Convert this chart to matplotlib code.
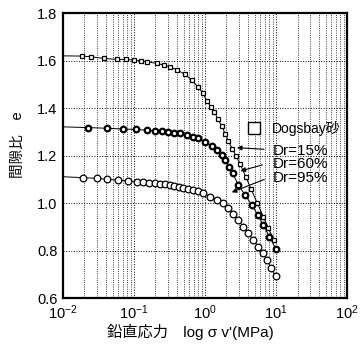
import matplotlib
matplotlib.use("Agg")
import matplotlib.pyplot as plt
from matplotlib.ticker import LogLocator, MultipleLocator, FormatStrFormatter

plt.rcParams["font.family"] = ["Liberation Sans", "Noto Sans CJK JP"]
plt.rcParams["mathtext.fontset"] = "custom"
plt.rcParams["mathtext.rm"] = "Liberation Sans"
plt.rcParams["mathtext.default"] = "regular"

# Dr=15% (small squares), first point is the line start at the left edge
s15 = [0.01, 0.0187, 0.0248, 0.0378, 0.057, 0.077, 0.1, 0.126, 0.154, 0.209, 0.267,
       0.321, 0.407, 0.523, 0.65, 0.789, 0.929, 1.06, 1.22, 1.35, 1.51, 1.72,
       1.91, 2.13, 2.43, 2.73, 3.11, 3.74, 4.45, 5.45, 6.62, 7.79, 9.46]
e15 = [1.620, 1.619, 1.616, 1.609, 1.605, 1.605, 1.602, 1.598, 1.595, 1.588, 1.581,
       1.574, 1.560, 1.542, 1.518, 1.490, 1.464, 1.429, 1.405, 1.384, 1.354, 1.324,
       1.293, 1.261, 1.227, 1.198, 1.164, 1.111, 1.059, 0.999, 0.942, 0.893, 0.843]

# Dr=60% (bold circles)
s60 = [0.01, 0.0225, 0.0417, 0.0706, 0.107, 0.151, 0.198, 0.25, 0.304, 0.37,
       0.445, 0.552, 0.671, 0.805, 1.0, 1.24, 1.46, 1.72, 1.91, 2.2, 2.45,
       2.94, 3.66, 4.54, 5.52, 6.62, 8.05, 10.0]
e60 = [1.321, 1.318, 1.315, 1.312, 1.310, 1.307, 1.304, 1.303, 1.300, 1.296,
       1.294, 1.286, 1.279, 1.272, 1.258, 1.240, 1.223, 1.202, 1.181, 1.153, 1.125,
       1.076, 1.034, 0.992, 0.950, 0.907, 0.858, 0.805]

# Dr=95% (open circles)
s95 = [0.01, 0.0193, 0.0298, 0.042, 0.059, 0.083, 0.109, 0.135, 0.164, 0.198,
       0.232, 0.273, 0.321, 0.37, 0.43, 0.495, 0.582, 0.684, 0.805, 0.929,
       1.18, 1.46, 1.81, 2.13, 2.5, 2.94, 3.46, 4.07, 4.79, 5.63, 6.62, 7.54,
       8.42, 9.9]
e95 = [1.111, 1.107, 1.104, 1.100, 1.097, 1.094, 1.090, 1.087, 1.086, 1.083,
       1.081, 1.079, 1.076, 1.073, 1.069, 1.064, 1.059, 1.055, 1.051, 1.043,
       1.027, 1.013, 0.999, 0.978, 0.954, 0.928, 0.900, 0.872, 0.844, 0.816,
       0.788, 0.760, 0.725, 0.694]

labels = ["Dr=15%", "Dr=60%", "Dr=95%"]
label_y = [1.219, 1.164, 1.105]
arrow_tail = [(7.4, 1.226), (7.0, 1.164), (7.4, 1.104)]
arrow_tip = [(2.56, 1.234), (2.89, 1.132), (2.18, 1.041)]

fig = plt.figure(figsize=(3.62, 3.45), dpi=100)
ax = fig.add_axes([0.174, 0.136, 0.785, 0.826])

ax.plot(s15, e15, "-", color="black", lw=0.7, marker="s", ms=3, mfc="white",
        mec="black", mew=0.9, markevery=slice(1, None))
ax.plot(s60, e60, "-", color="black", lw=0.7, marker="o", ms=4, mfc="white",
        mec="black", mew=1.6, markevery=slice(1, None))
ax.plot(s95, e95, "-", color="black", lw=0.7, marker="o", ms=4.8, mfc="white",
        mec="black", mew=0.9, markevery=slice(1, None))

ax.set_xscale("log")
ax.set_xlim(0.01, 100)
ax.set_ylim(0.6, 1.8)
ax.yaxis.set_major_locator(MultipleLocator(0.2))
ax.yaxis.set_major_formatter(FormatStrFormatter("%.1f"))
ax.xaxis.set_major_locator(LogLocator(base=10, numticks=10))
ax.xaxis.set_minor_locator(LogLocator(base=10, subs=range(2, 10), numticks=20))
ax.grid(True, which="major", color="black", ls=":", lw=0.7)
ax.grid(True, which="minor", axis="x", color="black", ls=":", lw=0.6)
ax.tick_params(which="both", length=0, labelsize=10.5, pad=4)
for sp in ax.spines.values():
    sp.set_linewidth(1.6)

# legend-like annotation
ax.plot([4.9], [1.316], marker="s", ms=8.5, mfc="white", mec="black", mew=1.0)
ax.text(8.6, 1.316, "Dogsbay砂", fontsize=10, va="center", ha="left")
for lab, y, tail, tip in zip(labels, label_y, arrow_tail, arrow_tip):
    ax.text(9.1, y, lab, fontsize=11, va="center", ha="left")
    ax.annotate("", xy=tip, xytext=tail,
                arrowprops=dict(arrowstyle="-|>", color="black", lw=0.8,
                                mutation_scale=7))

fig.text(0.05, 0.58, "間隙比　e", rotation=90, fontsize=10.5, ha="center", va="center")
fig.text(0.295, 0.038, "鉛直応力　log σ v'(MPa)", fontsize=11, ha="left", va="center")

fig.savefig("out.png", dpi=100)
